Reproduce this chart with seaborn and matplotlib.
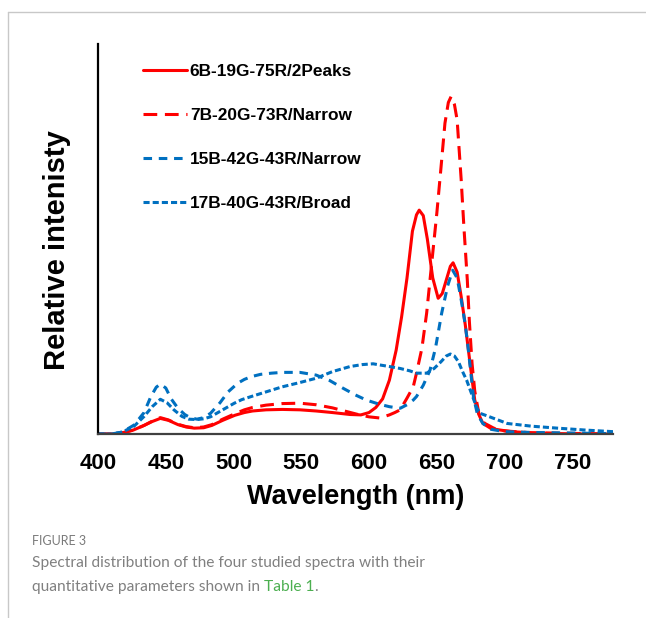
import matplotlib
matplotlib.use("Agg")
import matplotlib.pyplot as plt
from matplotlib.lines import Line2D
import pandas as pd
import seaborn as sns

# Spectra (wavelength in nm, relative intensity)
wl_2peaks = [400, 410, 418, 426, 434, 440, 446, 452, 459, 465, 471, 478, 484, 492, 501, 508,
             514, 524, 536, 549, 561, 573, 586, 594, 600, 605, 610, 615, 620, 624, 628, 632,
             635, 637, 640, 643, 647, 651, 654, 657, 660, 662, 665, 668, 671, 673, 676, 678,
             681, 684, 690, 697, 705, 720, 740, 760, 780]
int_2peaks = [0, 0, 0.003, 0.01, 0.022, 0.032, 0.04, 0.035, 0.024, 0.018, 0.015, 0.016, 0.022, 0.035, 0.048, 0.055,
              0.059, 0.062, 0.063, 0.062, 0.059, 0.055, 0.05, 0.049, 0.055, 0.068, 0.09, 0.138, 0.215, 0.3, 0.4, 0.52,
              0.562, 0.574, 0.56, 0.5, 0.4, 0.348, 0.36, 0.395, 0.43, 0.439, 0.415, 0.352, 0.28, 0.224, 0.14, 0.087,
              0.05, 0.027, 0.014, 0.01, 0.006, 0.003, 0.001, 0.0, 0.0]

wl_red_narrow = [400, 410, 418, 426, 434, 440, 446, 452, 459, 465, 471, 478, 484, 492, 501, 508,
                 514, 524, 536, 549, 561, 573, 583, 593, 600, 608, 615, 619, 623, 628, 632.6, 635,
                 639, 642.5, 646, 650, 653, 656, 658.5, 660.5, 663, 665, 668, 670, 672.5, 674, 676,
                 678, 681, 685, 692, 700, 720, 740, 760, 780]
int_red_narrow = [0, 0, 0.003, 0.01, 0.022, 0.033, 0.042, 0.036, 0.025, 0.019, 0.016, 0.018, 0.024, 0.038, 0.052, 0.062,
                  0.068, 0.074, 0.078, 0.079, 0.075, 0.067, 0.058, 0.049, 0.044, 0.041, 0.049, 0.055, 0.062, 0.092, 0.121, 0.156,
                  0.22, 0.31, 0.43, 0.566, 0.68, 0.797, 0.85, 0.865, 0.845, 0.805, 0.651, 0.53, 0.395, 0.29, 0.181,
                  0.11, 0.053, 0.028, 0.015, 0.008, 0.003, 0.002, 0.001, 0.0]

wl_blue_narrow = [400, 410, 418, 426.6, 434, 439, 443, 446, 450, 454, 459, 464, 468, 473, 478, 483,
                  490, 496, 503, 508, 513, 520, 528, 536, 549, 561, 571, 581, 590, 598, 607, 615,
                  623, 628, 632.6, 635, 640, 645, 649, 653.6, 658, 661.7, 665, 668, 671, 673, 675,
                  677, 680, 684, 690, 700, 720, 740, 760, 780]
int_blue_narrow = [0, 0, 0.005, 0.023, 0.055, 0.096, 0.12, 0.128, 0.118, 0.09, 0.066, 0.05, 0.042, 0.038, 0.042, 0.053,
                   0.08, 0.108, 0.13, 0.14, 0.147, 0.153, 0.156, 0.158, 0.158, 0.151, 0.137, 0.117, 0.1, 0.087, 0.077, 0.07,
                   0.066, 0.075, 0.087, 0.096, 0.125, 0.164, 0.22, 0.31, 0.38, 0.42, 0.4, 0.344, 0.28, 0.224, 0.16,
                   0.096, 0.05, 0.027, 0.012, 0.006, 0.004, 0.003, 0.002, 0.001]

wl_broad = [400, 410, 418, 426.6, 434, 440, 446, 451, 456, 462, 467, 473, 478, 483, 490, 500.6,
            506, 513, 524, 536, 549, 561, 573, 586, 595, 603, 608, 615, 623, 630, 635, 642.5,
            648, 653, 657, 660, 663, 666, 669, 672, 676, 679.5, 682, 689, 702, 720, 739, 760, 780]
int_broad = [0, 0, 0.005, 0.02, 0.045, 0.07, 0.089, 0.08, 0.062, 0.045, 0.038, 0.037, 0.039, 0.044, 0.058, 0.079,
             0.088, 0.096, 0.108, 0.121, 0.132, 0.143, 0.16, 0.173, 0.178, 0.18, 0.177, 0.173, 0.168, 0.162, 0.156, 0.156,
             0.168, 0.185, 0.2, 0.205, 0.2, 0.185, 0.16, 0.138, 0.1, 0.067, 0.053, 0.044, 0.027, 0.02, 0.015, 0.01, 0.006]

labels = ["6B-19G-75R/2Peaks", "7B-20G-73R/Narrow", "15B-42G-43R/Narrow", "17B-40G-43R/Broad"]
xticks = [400, 450, 500, 550, 600, 650, 700, 750]

RED = "#FF0000"
BLUE = "#0070C0"

sns.set_style("white")
plt.rcParams["font.family"] = ["Liberation Sans", "DejaVu Sans"]
plt.rcParams["text.color"] = "black"
plt.rcParams["axes.labelcolor"] = "black"
plt.rcParams["xtick.color"] = "black"

fig = plt.figure(figsize=(6.46, 6.18), dpi=100)
ax = fig.add_axes([98 / 646, 1 - 434 / 618, 515 / 646, 390 / 618])

series = [
    (wl_2peaks, int_2peaks, RED, "-"),
    (wl_red_narrow, int_red_narrow, RED, (0, (4.5, 2.5))),
    (wl_blue_narrow, int_blue_narrow, BLUE, (0, (2.8, 2.2))),
    (wl_broad, int_broad, BLUE, (0, (2.0, 1.0))),
]
for (x, y, col, ls), lab in zip(series, labels):
    df = pd.DataFrame({"wl": x, "val": y})
    sns.lineplot(data=df, x="wl", y="val", ax=ax, color=col, linestyle=ls,
                 lw=2.2, label=lab, sort=False)

ax.set_xlim(400, 780)
ax.set_ylim(0, 1)
ax.set_xticks(xticks)
ax.set_yticks([])
ax.tick_params(axis="x", length=0, pad=14, labelsize=16)
for t in ax.get_xticklabels():
    t.set_fontweight("bold")

for s in ["top", "right"]:
    ax.spines[s].set_visible(False)
ax.spines["left"].set_color("black")
ax.spines["left"].set_linewidth(1.6)
ax.spines["bottom"].set_color("#404040")
ax.spines["bottom"].set_linewidth(1.6)

ax.set_xlabel("Wavelength (nm)", fontsize=19.5, fontweight="bold")
ax.set_ylabel("Relative intenisty", fontsize=21, fontweight="bold")
ax.xaxis.set_label_coords(0.5, -0.128)
ax.yaxis.set_label_coords(-0.053, 0.472)

ax.legend(loc="upper left", bbox_to_anchor=(0.087, 0.950), frameon=False,
          prop={"weight": "bold", "size": 12.4}, handlelength=2.55,
          handletextpad=0.18, labelspacing=1.69, borderpad=0, borderaxespad=0)

# caption and page frame
fig.add_artist(Line2D([8 / 646, 1], [1 - 12 / 618] * 2, transform=fig.transFigure,
                      color="#c8c8c8", lw=1))
fig.add_artist(Line2D([8 / 646, 8 / 646], [0, 1 - 12 / 618], transform=fig.transFigure,
                      color="#c8c8c8", lw=1))
cap_font = ["Lato", "DejaVu Sans"]
fig.text(32 / 646, 1 - 541 / 618, "FIGURE 3", fontsize=9, color="#7a7a7a",
         family=cap_font, va="center")
fig.text(32 / 646, 1 - 563 / 618, "Spectral distribution of the four studied spectra with their",
         fontsize=11.2, color="#808080", family=cap_font, va="center")
t1 = fig.text(32 / 646, 1 - 587 / 618, "quantitative parameters shown in ",
              fontsize=11.2, color="#808080", family=cap_font, va="center")
fig.canvas.draw()
bb = t1.get_window_extent()
t2 = fig.text(bb.x1 / fig.bbox.width, 1 - 587 / 618, "Table 1",
              fontsize=11.2, color="#4CAF50", family=cap_font, va="center")
bb2 = t2.get_window_extent()
fig.text(bb2.x1 / fig.bbox.width, 1 - 587 / 618, ".",
         fontsize=11.2, color="#808080", family=cap_font, va="center")

fig.savefig("out.png", dpi=100)
